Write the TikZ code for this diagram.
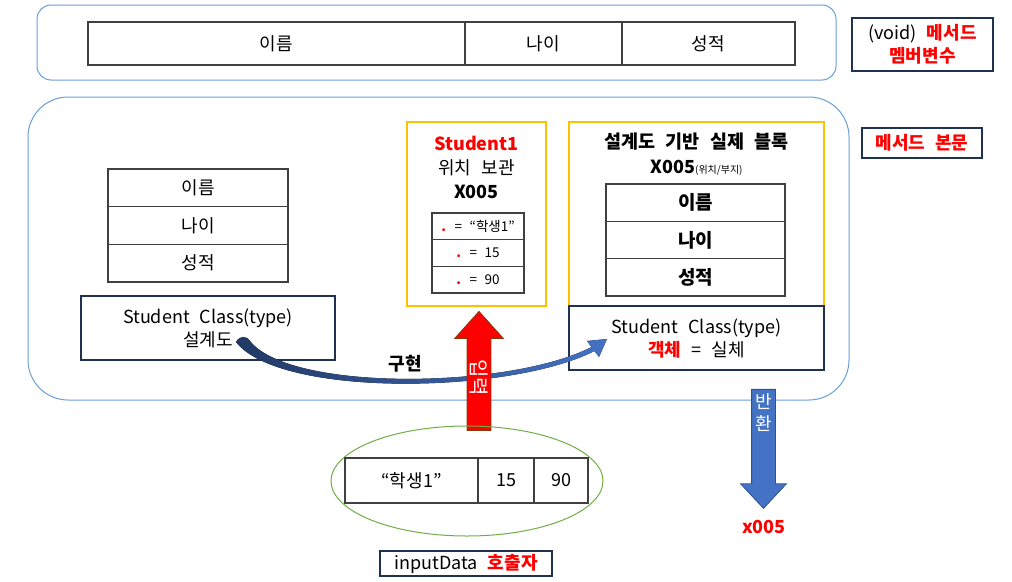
\documentclass[tikz,border=0pt]{standalone}
\usepackage{fontspec}
\setmainfont{Noto Sans CJK KR}[WordSpace=2.5]
\usepackage{tikz}
\usetikzlibrary{positioning,shapes.arrows,shapes.geometric,arrows.meta}

\definecolor{panelblue}{HTML}{6A9FD5}
\definecolor{navy}{HTML}{1F3350}
\definecolor{gold}{HTML}{FFC000}
\definecolor{hotred}{HTML}{FF0000}
\definecolor{arrowblue}{HTML}{4472C4}
\definecolor{arrowline}{HTML}{2F528F}
\definecolor{brownline}{HTML}{843C0C}
\definecolor{leaf}{HTML}{70AD47}

\begin{document}
\begin{tikzpicture}[x=1pt,y=-1pt,
	font=\fontsize{18}{22}\selectfont,
	panel/.style={draw=panelblue, line width=1pt},
	cell/.style={draw=black!75, line width=1.3pt, outer sep=0pt, inner sep=0pt},
	navybox/.style={draw=navy, line width=1.2pt, outer sep=0pt, align=center},
	goldbox/.style={draw=gold, line width=1.2pt, outer sep=0pt},
	hot/.style={text=hotred, font=\fontsize{18}{22}\selectfont\bfseries}]
	\useasboundingbox (0,0) rectangle (1012,581);

	% member variables
	\node (mv) at (436.5,42.5) [panel, rounded corners=14pt, minimum width=799pt, minimum height=75pt] {};
	\node (f1) at (276.5,43.5) [cell, minimum width=377pt, minimum height=43pt] {이름};
	\node (f2) [cell, right=0pt of f1, minimum width=157pt, minimum height=43pt] {나이};
	\node (f3) [cell, right=0pt of f2, minimum width=173pt, minimum height=43pt] {성적};
	\node (tag1) at (922.5,44.5) [navybox, minimum width=141pt, minimum height=53pt, inner sep=0pt, font=\fontsize{18}{23}\selectfont] {(void) \textcolor{hotred}{\bfseries 메서드}\\\textcolor{hotred}{\bfseries 멤버변수}};

	% method body
	\node (body) at (438.5,248.5) [panel, rounded corners=40pt, minimum width=821pt, minimum height=303pt] {};
	\node (tag2) at (922,143) [navybox, minimum width=120pt, minimum height=30pt, inner sep=0pt, text=hotred, font=\fontsize{18}{22}\selectfont\bfseries] {메서드 본문};

	% blueprint
	\node (p1) at (198,187.8) [cell, minimum width=180pt, minimum height=37.7pt] {이름};
	\node (p2) [cell, below=0pt of p1, minimum width=180pt, minimum height=37.7pt] {나이};
	\node (p3) [cell, below=0pt of p2, minimum width=180pt, minimum height=37.7pt] {성적};
	\node (cls) at (208,328) [navybox, minimum width=254pt, minimum height=64pt, inner sep=0pt, font=\fontsize{18}{23}\selectfont] {Student Class(type)\\설계도};

	% reference variable
	\node (ref) at (476.5,214) [goldbox, minimum width=139pt, minimum height=184pt] {};
	\node (refname) at (476.5,167) [align=center, font=\fontsize{18}{24}\selectfont] {\textcolor{hotred}{\bfseries Student1}\\위치 보관\\\bfseries X005};
	\node (s1) at (478,226.3) [cell, minimum width=92pt, minimum height=26.7pt, font=\fontsize{13.5}{15}\selectfont] {\textcolor{hotred}{\bfseries .} = “학생1”};
	\node (s2) [cell, below=0pt of s1, minimum width=92pt, minimum height=26.7pt, font=\fontsize{13.5}{15}\selectfont] {\textcolor{hotred}{\bfseries .} = 15};
	\node (s3) [cell, below=0pt of s2, minimum width=92pt, minimum height=26.7pt, font=\fontsize{13.5}{15}\selectfont] {\textcolor{hotred}{\bfseries .} = 90};

	% real block
	\node (blk) at (696.5,214) [goldbox, minimum width=255pt, minimum height=184pt] {};
	\node (blkname) at (696.5,142) [font=\fontsize{18.5}{22}\selectfont\bfseries] {설계도 기반 실제 블록};
	\node (blkaddr) at (696.5,168) {\bfseries X005\fontsize{10}{12}\selectfont\mdseries(위치/부지)};
	\node (b1) at (695.5,202.7) [cell, minimum width=179pt, minimum height=37.3pt, font=\fontsize{19}{22}\selectfont\bfseries] {이름};
	\node (b2) [cell, below=0pt of b1, minimum width=179pt, minimum height=37.3pt, font=\fontsize{19}{22}\selectfont\bfseries] {나이};
	\node (b3) [cell, below=0pt of b2, minimum width=179pt, minimum height=37.3pt, font=\fontsize{19}{22}\selectfont\bfseries] {성적};
	\node (obj) at (696.5,338) [navybox, minimum width=255pt, minimum height=64pt, inner sep=0pt, font=\fontsize{18}{23}\selectfont] {Student Class(type)\\\textcolor{hotred}{\bfseries 객체} = 실체};

	% implementation
	\coordinate (impl0) at (236,342);
	\coordinate (impl1) at (607,339);
	\fill [left color=arrowline!70!black, right color=arrowblue] (impl0) .. controls (240,335) and (247,336) .. (250,341)
		.. controls (290,392) and (510,389) .. (591.5,347) -- (587,341) -- (impl1) -- (599,357) -- (594.5,351)
		.. controls (510,394) and (280,398) .. (impl0) -- cycle;
	\node (impl) at (405,364) [font=\fontsize{18}{22}\selectfont\bfseries] {구현};

	% input
	\node (in) at (479,377.5) [single arrow, shape border rotate=90, draw=brownline, fill=hotred, line width=0.8pt, inner sep=0pt,
		minimum height=119pt, minimum width=48pt, single arrow head extend=12.5pt, single arrow tip angle=84, text=white,
		font=\fontsize{20}{22}\selectfont] {\makebox[23pt]{\rotatebox{-90}{입력}}};

	% return
	\node (ret) at (763.5,442.5) [single arrow, shape border rotate=270, draw=arrowline, fill=arrowblue, line width=0.8pt, inner sep=0pt,
		minimum height=119pt, minimum width=45pt, single arrow head extend=11pt, single arrow tip angle=86] {\makebox[23pt]{}};
	\node (retlbl) [below=1pt of ret.tail, align=center, text=white, font=\fontsize{18}{22}\selectfont] {반\\환};
	\node (addr) at (764,527) [hot] {x005};

	% caller
	\node (call) at (467,481) [ellipse, draw=leaf, line width=1pt, minimum width=272pt, minimum height=110pt] {};
	\node (d1) at (411.5,480.5) [cell, minimum width=133pt, minimum height=45pt] {“학생1”};
	\node (d2) [cell, right=0pt of d1, minimum width=56pt, minimum height=45pt] {15};
	\node (d3) [cell, right=0pt of d2, minimum width=54pt, minimum height=45pt] {90};
	\node (tag3) at (466,563.5) [navybox, minimum width=172pt, minimum height=25pt, inner sep=0pt] {inputData \textcolor{hotred}{\bfseries 호출자}};
\end{tikzpicture}
\end{document}
